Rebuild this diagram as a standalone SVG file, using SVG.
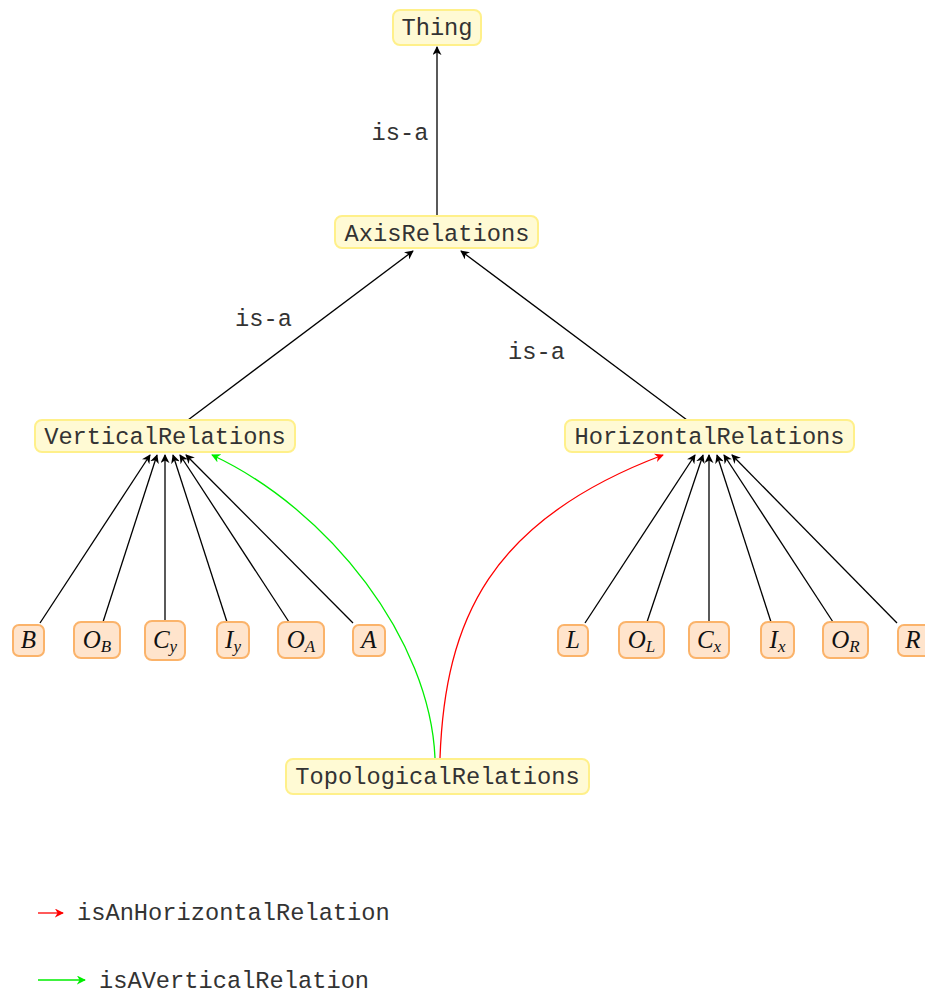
<svg xmlns="http://www.w3.org/2000/svg" width="925" height="994" viewBox="0 0 925 994">
<defs>
<style>
.cls{fill:#fffad4;stroke:#fff08a;stroke-width:2}
.inst{fill:#ffe4cc;stroke:#fbb36a;stroke-width:2}
.t{font-family:"Liberation Mono","Courier New",monospace;font-size:23.7px;fill:#333;text-anchor:middle}
.m{font-family:"Liberation Serif","Times New Roman",serif;font-style:italic;font-size:25px;fill:#111;text-anchor:middle}
.sub{font-size:17px}
.e{fill:none;stroke:#000;stroke-width:1.3}
.lbl{font-family:"Liberation Mono","Courier New",monospace;font-size:23.7px;fill:#333;text-anchor:middle}
.leg{font-family:"Liberation Mono","Courier New",monospace;font-size:23.7px;fill:#333}
</style>
<marker id="ab" viewBox="0 0 10 10" refX="9" refY="5" markerWidth="9" markerHeight="9" markerUnits="userSpaceOnUse" orient="auto"><path d="M0,0 L10,5 L0,10 L3,5 Z" fill="#000"/></marker>
<marker id="ar" viewBox="0 0 10 10" refX="9" refY="5" markerWidth="9" markerHeight="9" markerUnits="userSpaceOnUse" orient="auto"><path d="M0,0 L10,5 L0,10 L3,5 Z" fill="#ff0000"/></marker>
<marker id="ag" viewBox="0 0 10 10" refX="9" refY="5" markerWidth="9" markerHeight="9" markerUnits="userSpaceOnUse" orient="auto"><path d="M0,0 L10,5 L0,10 L3,5 Z" fill="#00ee00"/></marker>
</defs>
<g id="connectors">
<path class="e" d="M437,216 L437,47" marker-end="url(#ab)"/>
<path class="e" d="M188,420 L413,251" marker-end="url(#ab)"/>
<path class="e" d="M687,420 L461,251" marker-end="url(#ab)"/>
<path class="e" d="M40,623 L150,455" marker-end="url(#ab)"/>
<path class="e" d="M103,622 L157,455" marker-end="url(#ab)"/>
<path class="e" d="M165,620 L165,455" marker-end="url(#ab)"/>
<path class="e" d="M227,622 L173,455" marker-end="url(#ab)"/>
<path class="e" d="M289,622 L180,455" marker-end="url(#ab)"/>
<path class="e" d="M353,623 L186,455" marker-end="url(#ab)"/>
<path class="e" d="M585,623 L695,455" marker-end="url(#ab)"/>
<path class="e" d="M647,622 L703,455" marker-end="url(#ab)"/>
<path class="e" d="M709,622 L709,455" marker-end="url(#ab)"/>
<path class="e" d="M771,622 L717,455" marker-end="url(#ab)"/>
<path class="e" d="M833,622 L724,455" marker-end="url(#ab)"/>
<path class="e" d="M897,623 L732,455" marker-end="url(#ab)"/>
<path d="M435,758 C430,640 330,510 212,455" fill="none" stroke="#00ee00" stroke-width="1.3" marker-end="url(#ag)"/>
<path d="M440,758 C445,620 490,520 663,455" fill="none" stroke="#ff0000" stroke-width="1.3" marker-end="url(#ar)"/>
<text class="lbl" x="400" y="140">is-a</text>
<text class="lbl" x="263.5" y="326">is-a</text>
<text class="lbl" x="536.5" y="359">is-a</text>
</g>
<g id="Thing"><rect class="cls" x="393" y="10" width="88" height="35" rx="7"/><text class="t" x="437" y="35">Thing</text></g>
<g id="AxisRelations"><rect class="cls" x="335" y="216" width="203" height="32" rx="7"/><text class="t" x="437" y="241">AxisRelations</text></g>
<g id="VerticalRelations"><rect class="cls" x="35" y="420" width="260" height="32" rx="7"/><text class="t" x="165" y="444">VerticalRelations</text></g>
<g id="HorizontalRelations"><rect class="cls" x="565" y="420" width="289" height="32" rx="7"/><text class="t" x="709.5" y="444">HorizontalRelations</text></g>
<g id="TopologicalRelations"><rect class="cls" x="286" y="759" width="303" height="35" rx="7"/><text class="t" x="437.5" y="784">TopologicalRelations</text></g>
<g id="B"><rect class="inst" x="13" y="625" width="31" height="31" rx="6"/><text class="m" x="28.5" y="648">B</text></g>
<g id="OB"><rect class="inst" x="74" y="622" width="46" height="36" rx="7"/><text class="m" x="97" y="648">O<tspan class="sub" dy="4">B</tspan></text></g>
<g id="Cy"><rect class="inst" x="145" y="621" width="40" height="39" rx="7"/><text class="m" x="165" y="648">C<tspan class="sub" dy="4">y</tspan></text></g>
<g id="Iy"><rect class="inst" x="217" y="622" width="32" height="36" rx="7"/><text class="m" x="233" y="648">I<tspan class="sub" dy="4">y</tspan></text></g>
<g id="OA"><rect class="inst" x="278" y="622" width="46" height="36" rx="7"/><text class="m" x="301" y="648">O<tspan class="sub" dy="4">A</tspan></text></g>
<g id="A"><rect class="inst" x="353" y="625" width="32" height="31" rx="6"/><text class="m" x="369" y="648">A</text></g>
<g id="L"><rect class="inst" x="558" y="625" width="30" height="31" rx="6"/><text class="m" x="573" y="648">L</text></g>
<g id="OL"><rect class="inst" x="619" y="622" width="45" height="36" rx="7"/><text class="m" x="641.5" y="648">O<tspan class="sub" dy="4">L</tspan></text></g>
<g id="Cx"><rect class="inst" x="689" y="622" width="40" height="36" rx="7"/><text class="m" x="709" y="648">C<tspan class="sub" dy="4">x</tspan></text></g>
<g id="Ix"><rect class="inst" x="761" y="622" width="33" height="36" rx="7"/><text class="m" x="777.5" y="648">I<tspan class="sub" dy="4">x</tspan></text></g>
<g id="OR"><rect class="inst" x="823" y="622" width="45" height="36" rx="7"/><text class="m" x="845.5" y="648">O<tspan class="sub" dy="4">R</tspan></text></g>
<g id="R"><rect class="inst" x="898" y="625" width="32" height="31" rx="6"/><text class="m" x="913" y="648">R</text></g>
<g id="legend">
<path d="M38,913 L63,913" fill="none" stroke="#ff0000" stroke-width="1.3" marker-end="url(#ar)"/>
<text class="leg" x="77" y="920">isAnHorizontalRelation</text>
<path d="M38,980 L85,980" fill="none" stroke="#00ee00" stroke-width="1.3" marker-end="url(#ag)"/>
<text class="leg" x="99" y="988">isAVerticalRelation</text>
</g>
</svg>
